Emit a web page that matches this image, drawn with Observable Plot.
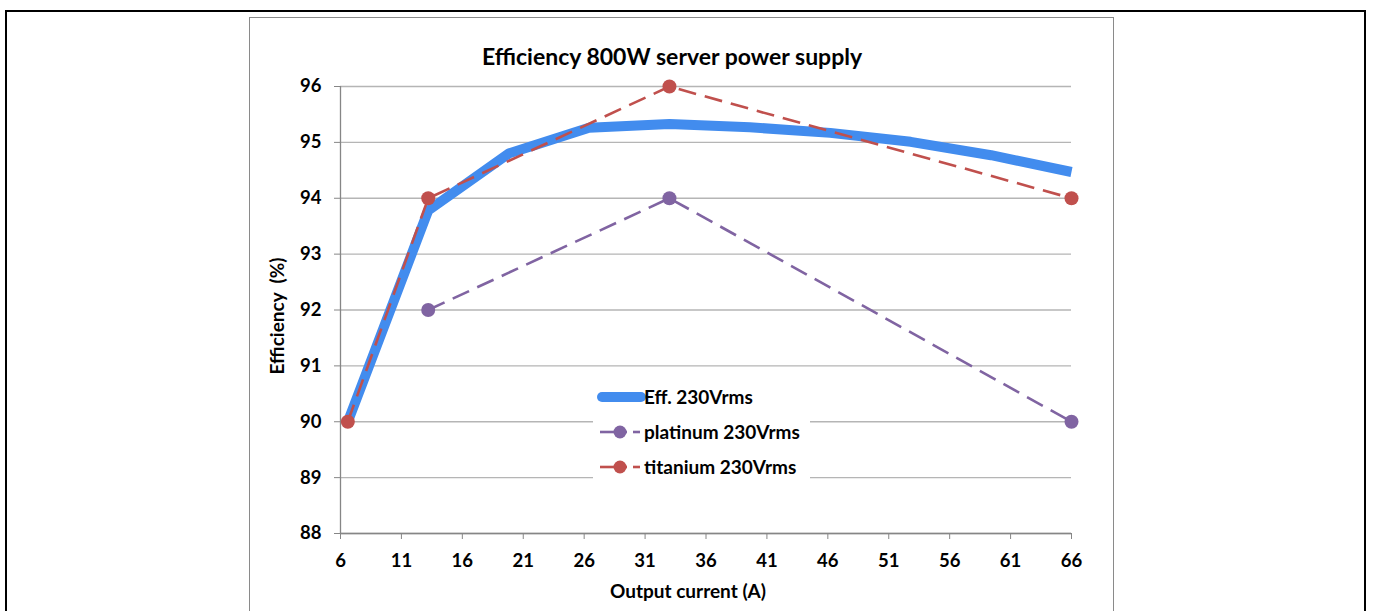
<!DOCTYPE html>
<html>
<head>
<meta charset="utf-8">
<script src="https://cdn.jsdelivr.net/npm/d3@7"></script>
<script src="https://cdn.jsdelivr.net/npm/@observablehq/plot@0.6"></script>
<style>
  html, body { margin: 0; padding: 0; background: #fff; overflow: hidden; }
  body { width: 1375px; height: 611px; position: relative; font-family: Lato, "Open Sans", sans-serif; }
  #outer { position: absolute; left: 5px; top: 10px; width: 1361px; height: 640px; border: 2.5px solid #000; box-sizing: border-box; }
  #inner { position: absolute; left: 249px; top: 17px; width: 865px; height: 640px; border: 1.3px solid #8a8a8a; box-sizing: border-box; }
  #chart { position: absolute; left: 0; top: 0; }
  .lbl { position: absolute; font-weight: bold; color: #000; white-space: nowrap; }
  #title { left: 672px; top: 56px; transform: translate(-50%, -50%); font-size: 23px; }
  #xlabel { left: 688px; top: 590px; transform: translate(-50%, -50%); font-size: 19px; }
  #ylabel { left: 276px; top: 316px; transform: translate(-50%, -50%) rotate(-90deg); font-size: 19px; }
  #legend { position: absolute; left: 593px; top: 380px; width: 217px; height: 104px; background: #fff; }
</style>
</head>
<body>
<div id="outer"></div>
<div id="inner"></div>
<div id="chart"></div>
<div id="title" class="lbl">Efficiency 800W server power supply</div>
<div id="xlabel" class="lbl">Output current (A)</div>
<div id="ylabel" class="lbl">Efficiency&nbsp; (%)</div>
<div id="legend"></div>
<script>
// ---- data ----
const effCurrent = [6.6, 13.2, 19.8, 26.4, 33, 39.6, 46.2, 52.8, 59.4, 66];
const effValues = [90.0, 93.78, 94.80, 95.26, 95.33, 95.27, 95.17, 95.01, 94.77, 94.47];
const platinumCurrent = [13.2, 33, 66];
const platinumValues = [92, 94, 90];
const titaniumCurrent = [6.6, 13.2, 33, 66];
const titaniumValues = [90, 94, 96, 94];
const xTicks = [6, 11, 16, 21, 26, 31, 36, 41, 46, 51, 56, 61, 66];
const yTicks = [88, 89, 90, 91, 92, 93, 94, 95, 96];
const seriesNames = ["Eff. 230Vrms", "platinum 230Vrms", "titanium 230Vrms"];
const seriesColors = ["#428cee", "#8064a2", "#c0504d"];

const eff = effCurrent.map((x, i) => ({x, y: effValues[i]}));
const plat = platinumCurrent.map((x, i) => ({x, y: platinumValues[i]}));
const tit = titaniumCurrent.map((x, i) => ({x, y: titaniumValues[i]}));

const xDomain = [xTicks[0], xTicks[xTicks.length - 1]];
const yDomain = [yTicks[0], yTicks[yTicks.length - 1]];

const dash = "18,9";

const chart = Plot.plot({
  width: 1375,
  height: 611,
  marginLeft: 340,
  marginRight: 304,
  marginTop: 86,
  marginBottom: 78,
  x: {domain: xDomain},
  y: {domain: yDomain},
  style: {fontFamily: "Lato, 'Open Sans', sans-serif", fontSize: "18.5px", fontWeight: "bold", color: "#000", background: "transparent", overflow: "visible"},
  marks: [
    Plot.gridY(yTicks, {stroke: "#b5b5b5", strokeOpacity: 1, strokeWidth: 1.3}),
    Plot.ruleX([xDomain[0]], {stroke: "#868686", strokeWidth: 1.3}),
    Plot.ruleY([yDomain[0]], {stroke: "#868686", strokeWidth: 1.3}),
    Plot.axisY(yTicks, {tickSize: 6, tickPadding: 13, stroke: "#868686", label: null, tickFormat: d => String(d)}),
    Plot.axisX(xTicks, {tickSize: 6, tickPadding: 14, stroke: "#868686", label: null, tickFormat: d => String(d)}),
    Plot.line(eff, {x: "x", y: "y", stroke: seriesColors[0], strokeWidth: 10, strokeLinecap: "butt", strokeLinejoin: "miter"}),
    Plot.line(plat, {x: "x", y: "y", stroke: seriesColors[1], strokeWidth: 2.6, strokeDasharray: dash, strokeLinecap: "butt"}),
    Plot.dot(plat, {x: "x", y: "y", r: 7, fill: seriesColors[1], stroke: "none"}),
    Plot.line(tit, {x: "x", y: "y", stroke: seriesColors[2], strokeWidth: 2.6, strokeDasharray: dash, strokeLinecap: "butt"}),
    Plot.dot(tit, {x: "x", y: "y", r: 7, fill: seriesColors[2], stroke: "none"})
  ]
});
document.getElementById("chart").appendChild(chart);

// ---- legend ----
const lg = d3.select("#legend").append("svg").attr("width", 217).attr("height", 104)
  .style("position", "absolute").style("left", 0).style("top", 0);
const rowsY = [17, 52, 87];
seriesNames.forEach((name, i) => {
  const g = lg.append("g").attr("transform", `translate(0,${rowsY[i]})`);
  if (i === 0) {
    g.append("line").attr("x1", 9).attr("x2", 48).attr("y1", 0).attr("y2", 0)
      .attr("stroke", seriesColors[i]).attr("stroke-width", 10).attr("stroke-linecap", "round");
  } else {
    g.append("line").attr("x1", 7).attr("x2", 34).attr("y1", 0).attr("y2", 0)
      .attr("stroke", seriesColors[i]).attr("stroke-width", 2.6);
    g.append("line").attr("x1", 40).attr("x2", 47).attr("y1", 0).attr("y2", 0)
      .attr("stroke", seriesColors[i]).attr("stroke-width", 2.6);
    g.append("circle").attr("cx", 27).attr("cy", 0).attr("r", 6.5).attr("fill", seriesColors[i]);
  }
  g.append("text").attr("x", 51).attr("y", 0).attr("dy", "0.35em")
    .attr("font-family", "Lato, 'Open Sans', sans-serif").attr("font-weight", "bold")
    .attr("font-size", "19px").attr("fill", "#000").text(name);
});
</script>
</body>
</html>
